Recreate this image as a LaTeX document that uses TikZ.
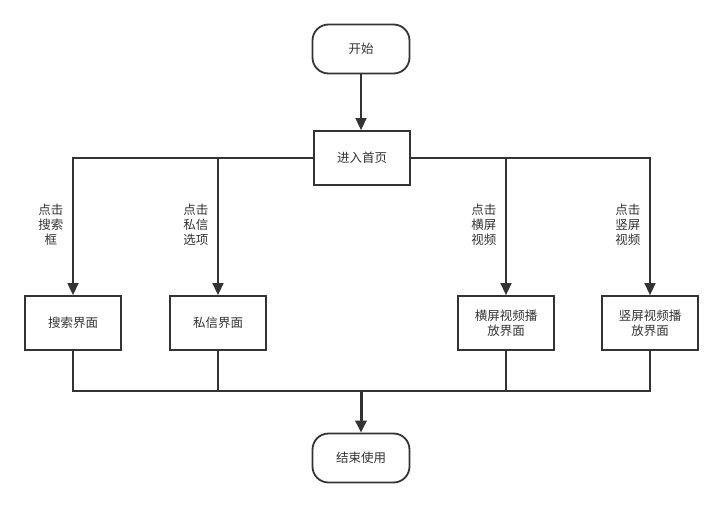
\documentclass[tikz,border=0pt]{standalone}
\usepackage{fontspec}
\usepackage{xcolor}
\usetikzlibrary{arrows.meta,positioning}
\newfontfamily\cjk{Noto Sans CJK SC}
\definecolor{inkgray}{HTML}{333333}

\tikzset{
	terminal/.style={draw=inkgray, line width=1.8pt, rounded corners=16pt, minimum width=97pt, minimum height=49pt, font=\cjk\fontsize{12.5}{15}\selectfont, text=inkgray},
	pagebox/.style={draw=inkgray, line width=1.8pt, minimum width=96pt, minimum height=54pt, align=center, font=\cjk\fontsize{12.5}{15}\selectfont, text=inkgray},
	flow/.style={draw=inkgray, line width=1.6pt, -{Triangle[length=12pt,width=11pt]}},
	joinline/.style={draw=inkgray, line width=1.6pt},
	clicklabel/.style={anchor=east, align=center, font=\cjk\fontsize{12.5}{15}\selectfont, text=inkgray},
}

\begin{document}
\begin{tikzpicture}[x=1pt, y=-1pt]
		\useasboundingbox (0,0) rectangle (723,507);
		%
		\node [terminal] at (361,49) (start) {开始};
		\node [pagebox] at (362,158) (home) {进入首页};
		\node [pagebox] at (73,323) (search) {搜索界面};
		\node [pagebox] at (218,323) (msg) {私信界面};
		\node [pagebox] at (506,323) (hvideo) {横屏视频播\\放界面};
		\node [pagebox] at (650,323) (vvideo) {竖屏视频播\\放界面};
		\node [terminal] at (361,458) (finish) {结束使用};
		\coordinate (join) at (361,391);
		%
		\draw [flow] (start) -- (start |- home.north);
		\draw [flow] (home.west) -| (search.north);
		\draw [flow] (home.west) -| (msg.north);
		\draw [flow] (home.east) -| (hvideo.north);
		\draw [flow] (home.east) -| (vvideo.north);
		%
		\node [clicklabel] at (67,225) (lsearch) {点击\\搜索\\框};
		\node [clicklabel] at (212,225) (lmsg) {点击\\私信\\选项};
		\node [clicklabel] at (500,225) (lhvideo) {点击\\横屏\\视频};
		\node [clicklabel] at (644,225) (lvvideo) {点击\\竖屏\\视频};
		%
		\draw [joinline] (search.south) |- (join);
		\draw [joinline] (msg.south) |- (join);
		\draw [joinline] (hvideo.south) |- (join);
		\draw [joinline] (vvideo.south) |- (join);
		\draw [flow, line width=3pt] (join) -- (finish);
	\end{tikzpicture}
\end{document}
